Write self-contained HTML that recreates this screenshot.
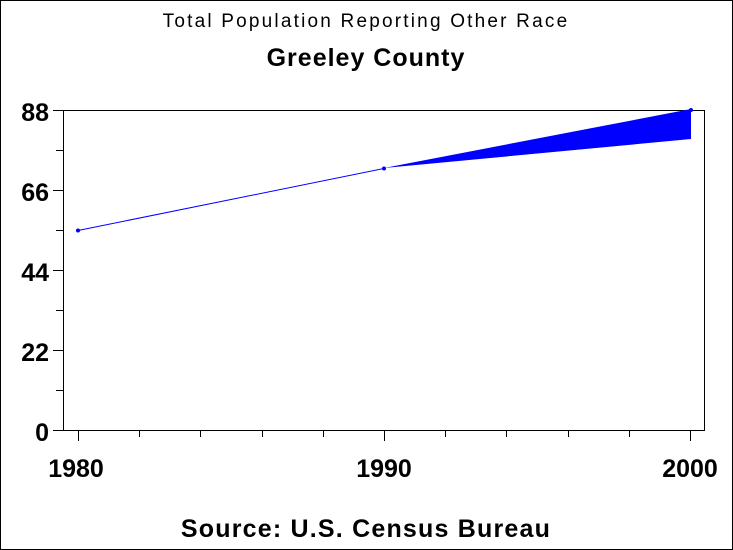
<!DOCTYPE html>
<html><head><style>
body{margin:0;background:#fff}
svg{display:block}
text{font-family:"Liberation Sans",Arial,sans-serif;fill:#000}
</style></head><body>
<svg width="733" height="550" viewBox="0 0 733 550" xmlns="http://www.w3.org/2000/svg">
<rect x="0.5" y="0.5" width="732" height="549" fill="#fff" stroke="#000"/>
<text x="366" y="27" font-size="19" text-anchor="middle" letter-spacing="2.2">Total Population Reporting Other Race</text>
<text x="366" y="66" font-size="25" font-weight="bold" text-anchor="middle" letter-spacing="1">Greeley County</text>
<rect x="63.5" y="110.5" width="641" height="320" fill="none" stroke="#000"/>
<g stroke="#000">
<line x1="53" y1="110.5" x2="63" y2="110.5"/><line x1="53" y1="190.5" x2="63" y2="190.5"/>
<line x1="53" y1="270.5" x2="63" y2="270.5"/><line x1="53" y1="350.5" x2="63" y2="350.5"/>
<line x1="53" y1="430.5" x2="63" y2="430.5"/>
<line x1="56" y1="150.5" x2="63" y2="150.5"/><line x1="56" y1="230.5" x2="63" y2="230.5"/>
<line x1="56" y1="310.5" x2="63" y2="310.5"/><line x1="56" y1="390.5" x2="63" y2="390.5"/>
<line x1="78.5" y1="431" x2="78.5" y2="441"/><line x1="384.5" y1="431" x2="384.5" y2="441"/><line x1="690.5" y1="431" x2="690.5" y2="441"/>
<line x1="139.5" y1="431" x2="139.5" y2="437"/><line x1="200.5" y1="431" x2="200.5" y2="437"/>
<line x1="262.5" y1="431" x2="262.5" y2="437"/><line x1="323.5" y1="431" x2="323.5" y2="437"/>
<line x1="445.5" y1="431" x2="445.5" y2="437"/><line x1="506.5" y1="431" x2="506.5" y2="437"/>
<line x1="568.5" y1="431" x2="568.5" y2="437"/><line x1="629.5" y1="431" x2="629.5" y2="437"/>
</g>
<g font-size="25" font-weight="bold" text-anchor="end">
<text x="49" y="121">88</text><text x="49" y="201">66</text><text x="49" y="281">44</text>
<text x="49" y="361">22</text><text x="49" y="441">0</text>
</g>
<g font-size="25" font-weight="bold" text-anchor="middle">
<text x="76" y="477">1980</text><text x="384" y="477">1990</text><text x="690" y="477">2000</text>
</g>
<line x1="78" y1="230.5" x2="384" y2="168.5" stroke="#00f" stroke-width="1"/>
<polygon points="384,168 691,109 691,139" fill="#00f"/>
<circle cx="78" cy="230.5" r="2" fill="#00f"/>
<circle cx="384" cy="168.5" r="2" fill="#00f"/>
<circle cx="691" cy="110" r="2" fill="#00f"/>
<text x="366" y="537" font-size="25" font-weight="bold" text-anchor="middle" letter-spacing="1.2">Source: U.S. Census Bureau</text>
</svg>
</body></html>
